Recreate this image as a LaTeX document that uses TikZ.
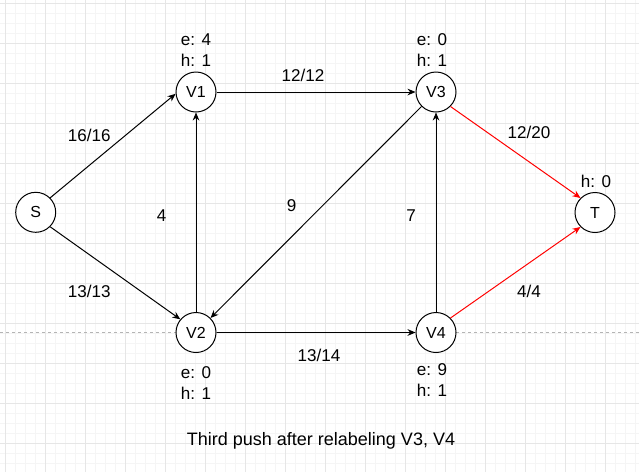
\documentclass[tikz,border=0pt]{standalone}
\usepackage{fontspec}
\setmainfont{Liberation Sans}
\usetikzlibrary{arrows.meta}
\definecolor{gridmajor}{HTML}{E6E6E6}
\definecolor{gridminor}{HTML}{F5F5F5}
\definecolor{dashgrey}{HTML}{B4B4B4}
\definecolor{flowred}{HTML}{FF0000}
\begin{document}
\begin{tikzpicture}[x=0.75pt,y=-0.75pt,
  vertex/.style={circle,draw=black,fill=white,line width=0.75pt,minimum size=30pt,inner sep=0pt,font=\fontsize{12}{14}\selectfont},
  lbl/.style={font=\fontsize{12.8}{15.5}\selectfont,inner sep=0pt,align=center},
  edge/.style={draw=black,line width=0.75pt,-{Stealth[length=6pt,width=5pt]}},
  redge/.style={draw=flowred,line width=0.75pt,-{Stealth[length=6pt,width=5pt]}}]
\useasboundingbox (0,0) rectangle (639,472);
\fill[white] (0,0) rectangle (639,472);
% grid
\foreach \x in {5,15,...,635} \draw[gridminor,line width=0.75pt] (\x,0) -- (\x,472);
\foreach \y in {3,13,...,470} \draw[gridminor,line width=0.75pt] (0,\y) -- (639,\y);
\foreach \x in {5,45,...,605} \draw[gridmajor,line width=0.75pt] (\x,0) -- (\x,472);
\foreach \y in {3,43,...,443} \draw[gridmajor,line width=0.75pt] (0,\y) -- (639,\y);
% dashed guide
\coordinate (dl) at (0,332.5);
\coordinate (dr) at (639,332.5);
\draw[dashgrey,line width=0.75pt,dash pattern=on 2.25pt off 2.25pt] (dl) -- (dr);
% vertices
\node[vertex] (S) at (35.7,212.3) {S};
\node[vertex] (V1) at (196,92) {V1};
\node[vertex] (V3) at (436,92) {V3};
\node[vertex] (T) at (595,212.5) {T};
\node[vertex] (V2) at (196,332.5) {V2};
\node[vertex] (V4) at (436,332.5) {V4};
% vertex labels
\node[lbl] (lV1) at (196,50) {e: 4\\h: 1};
\node[lbl] (lV3) at (432,50) {e: 0\\h: 1};
\node[lbl] (lT) at (596,181) {h: 0};
\node[lbl] (lV2) at (196,383) {e: 0\\h: 1};
\node[lbl] (lV4) at (432,379.7) {e: 9\\h: 1};
% edges
\draw[edge] (S.45) -- (V1.185);
\draw[edge] (S.-45) -- (V2.140);
\draw[edge] (V2.north) -- (V1.south);
\draw[edge] (V1.east) -- (V3.west);
\draw[edge] (V3.-135) -- (V2.45);
\draw[edge] (V4.north) -- (V3.south);
\draw[edge] (V2.east) -- (V4.west);
\draw[redge] (V3.-45) -- (T.135);
\draw[redge] (V4.45) -- (T.-135);
% edge labels
\node[lbl] (e1) at (89.3,135.7) {16/16};
\node[lbl] (e2) at (89.3,291) {13/13};
\node[lbl] (e3) at (303,75) {12/12};
\node[lbl] (e4) at (161.7,216) {4};
\node[lbl] (e5) at (291.7,206) {9};
\node[lbl] (e6) at (411,216) {7};
\node[lbl] (e7) at (319,355) {13/14};
\node[lbl] (e8) at (529,132.7) {12/20};
\node[lbl] (e9) at (529,291) {4/4};
% caption
\node[lbl,font=\fontsize{13.5}{16}\selectfont] (cap) at (321,441) {Third push after relabeling V3, V4};
\end{tikzpicture}
\end{document}
